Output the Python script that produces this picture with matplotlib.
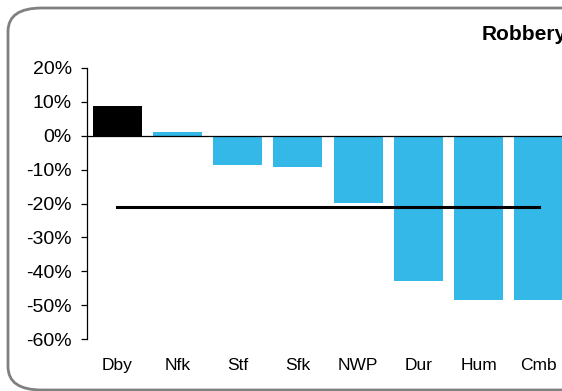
import matplotlib.pyplot as plt
from matplotlib.patches import FancyBboxPatch
from matplotlib.ticker import FuncFormatter

plt.rcParams['font.family'] = ['Liberation Sans', 'DejaVu Sans']

# Data: % change in robbery by force
forces = ["Dby", "Nfk", "Stf", "Sfk", "NWP", "Dur", "Hum", "Cmb"]
change = [8.9, 1.2, -8.5, -9.1, -19.8, -42.8, -48.6, -48.6]
average = [-21, -21, -21, -21, -21, -21, -21, -21]
bar_colors = ["#000000"] + ["#33b8e8"] * 7

fig = plt.figure(figsize=(5.62, 3.91), dpi=100)

# rounded grey frame (cut off on right, like the original)
frame = FancyBboxPatch((8 / 562, 1 - 390 / 391), 600 / 562, 382 / 391,
                       boxstyle="round,pad=0,rounding_size=0.06",
                       transform=fig.transFigure, facecolor="white",
                       edgecolor="#808080", linewidth=2, zorder=-5)
fig.patches.append(frame)

ax = fig.add_axes([87 / 562, 1 - 339 / 391, 482 / 562, 271 / 391])
ax.patch.set_alpha(0)
ax.set_zorder(2)

x = range(len(forces))
ax.bar(x, change, width=0.81, color=bar_colors, zorder=2)
ax.plot(x, average, color="black", linewidth=2.2, zorder=3)
ax.axhline(0, color="black", linewidth=0.9, zorder=4)

ax.set_xlim(-0.5, 7.5)
ax.set_ylim(-60, 20)
ax.set_yticks(range(-60, 21, 10))
ax.yaxis.set_major_formatter(FuncFormatter(lambda v, p: f"{v:.0f}%"))
ax.tick_params(axis="y", direction="out", length=4, width=0.9,
               labelsize=14, pad=7)
ax.set_xticks(list(x))
ax.set_xticklabels(forces)
ax.tick_params(axis="x", length=0, labelsize=12.5, pad=14)

for side in ["top", "right", "bottom"]:
    ax.spines[side].set_visible(False)
ax.spines["left"].set_linewidth(0.9)

fig.text(482 / 562, 1 - 35 / 391, "Robbery", fontsize=15,
         fontweight="bold", ha="left", va="center")

fig.savefig("out.png", dpi=100)
